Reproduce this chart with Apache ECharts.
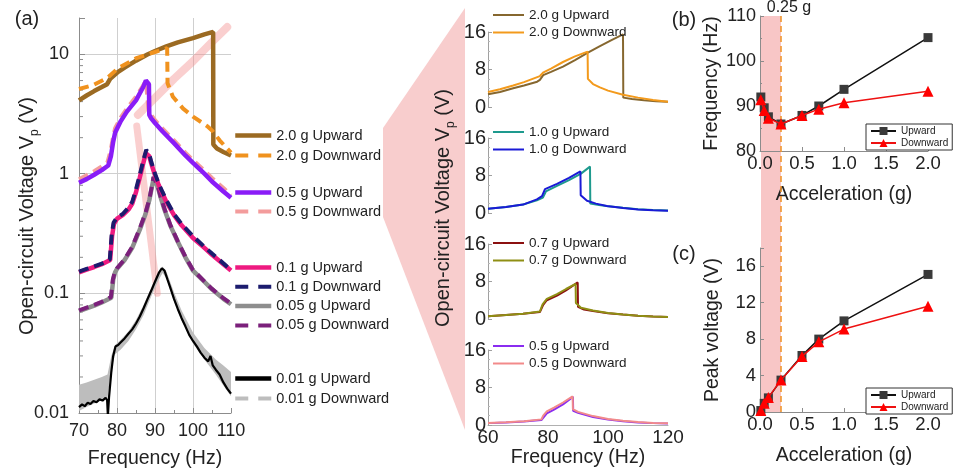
<!DOCTYPE html>
<html>
<head>
<meta charset="utf-8">
<script src="https://cdn.jsdelivr.net/npm/echarts@6/dist/echarts.min.js"></script>
<style>
html,body{margin:0;padding:0;background:#fff}
#c{width:960px;height:475px}
</style>
</head>
<body>
<div id="c"></div>
<script>
// ---------- (a) open-circuit voltage vs frequency, log scale ----------
const up20 = [[70,4.1],[72,4.5],[74,4.9],[76,5.3],[77.4,5.6],[78.2,6.2],[80.3,7.1],[82,7.7],[85,8.8],[88,9.9],[90,10.6],[93,11.6],[96,12.5],[100,13.6],[103,14.6],[105.3,15.3],[105.35,1.75],[106.3,1.62],[108,1.52],[110,1.42]];
const dn20 = [[70,5.1],[73.7,5.5],[77.4,6.3],[80.3,7.6],[85.3,9.3],[90,10.4],[93.2,11.2],[93.3,5.7],[94.7,4.4],[97.4,3.5],[100,3.0],[103.7,2.5],[105,2.3],[107,1.9],[110,1.5]];
const up05 = [[70,0.84],[72,0.9],[74,0.98],[76,1.07],[77.7,1.17],[78.4,1.4],[79,1.85],[79.5,2.2],[81,2.75],[82.6,3.3],[85,4.1],[86.9,5.3],[87.6,6.0],[88,6.2],[88.4,5.6],[88.5,3.1],[89,2.9],[90,2.65],[92,2.25],[95,1.8],[98,1.42],[100,1.23],[103,1.0],[105,0.86],[108,0.71],[110,0.63]];
const dn05 = [[70,0.9],[72,0.97],[74,1.05],[76,1.15],[77.5,1.25],[78.3,1.55],[79,2.05],[79.5,2.4],[81,2.95],[82.6,3.5],[85,4.4],[86.8,5.4],[87.6,5.95],[88,5.9],[88.3,3.4],[89,3.1],[90,2.8],[92,2.38],[95,1.9],[98,1.5],[100,1.3],[103,1.06],[105,0.92],[108,0.76],[110,0.66]];
const up01 = [[70,0.15],[72,0.158],[74,0.166],[76,0.175],[78.2,0.19],[78.7,0.3],[79.2,0.38],[80,0.42],[81.5,0.45],[83,0.5],[84,0.56],[85,0.7],[86,0.93],[87,1.25],[87.6,1.48],[88,1.5],[88.5,1.4],[89,1.22],[90,0.97],[91,0.8],[92,0.68],[93,0.58],[95,0.45],[97,0.37],[100,0.29],[103,0.24],[105,0.21],[108,0.175],[110,0.155]];
const dn01 = [[70,0.152],[72,0.16],[74,0.168],[76,0.177],[78.1,0.192],[78.6,0.31],[79.1,0.39],[80,0.43],[81.5,0.46],[83,0.52],[84,0.58],[85,0.74],[86,0.98],[87,1.32],[87.7,1.58],[88,1.6],[88.5,1.45],[89,1.26],[90,1.0],[91,0.82],[92,0.7],[93,0.6],[95,0.46],[97,0.38],[100,0.3],[103,0.245],[105,0.215],[108,0.178],[110,0.157]];
const up005 = [[70,0.071],[72,0.075],[74,0.079],[76,0.084],[78.5,0.092],[79,0.13],[79.5,0.15],[80,0.16],[82,0.19],[84,0.24],[86,0.34],[87.5,0.46],[88.5,0.6],[89.2,0.78],[89.7,0.93],[90.1,0.9],[90.8,0.76],[91.5,0.63],[92.5,0.5],[94,0.37],[96,0.27],[98,0.2],[100,0.155],[103,0.125],[105,0.108],[108,0.09],[110,0.081]];
const dn005 = [[70,0.072],[72,0.076],[74,0.08],[76,0.085],[78.4,0.093],[78.9,0.13],[79.4,0.15],[80,0.162],[82,0.193],[84,0.245],[86,0.35],[87.5,0.47],[88.5,0.61],[89.2,0.79],[89.6,0.94],[90,0.91],[90.8,0.77],[91.5,0.64],[92.5,0.51],[94,0.375],[96,0.272],[98,0.202],[100,0.157],[103,0.126],[105,0.109],[108,0.091],[110,0.082]];
const up001 = [[70,0.0112],[70.8,0.0118],[71.5,0.0114],[72.3,0.0122],[73,0.0119],[73.8,0.0126],[74.6,0.0123],[75.4,0.013],[76.2,0.0127],[77,0.0134],[77.4,0.0128],[77.6,0.0095],[77.9,0.0135],[78.5,0.022],[79,0.03],[79.6,0.036],[80.3,0.037],[81,0.039],[82,0.042],[83,0.046],[84,0.05],[85,0.056],[86,0.064],[87,0.075],[88,0.089],[89,0.105],[90,0.125],[91,0.148],[91.8,0.162],[92.5,0.155],[93.3,0.13],[94,0.112],[95,0.09],[96,0.074],[97,0.062],[98,0.053],[99,0.045],[100,0.04],[101,0.036],[102,0.032],[103,0.029],[104,0.027],[104.6,0.03],[105.2,0.025],[106,0.023],[107,0.021],[108,0.018],[109,0.016],[110,0.0145]];
// 0.01 g downward sweep: upper and lower edge of the noisy trace
const dn001Hi = [[70,0.0172],[72,0.018],[74,0.019],[76,0.02],[77.5,0.021],[78.5,0.03],[79.5,0.037],[81,0.041],[83,0.048],[85,0.06],[87,0.08],[89,0.112],[91,0.152],[92,0.168],[93,0.152],[95,0.102],[97,0.072],[100,0.047],[103,0.035],[106,0.028],[108,0.025],[110,0.022]];
const dn001Lo = [[70,0.0104],[72,0.0112],[74,0.012],[76,0.0128],[77.5,0.0134],[78.5,0.023],[79.5,0.031],[81,0.034],[83,0.04],[85,0.05],[87,0.066],[89,0.094],[91,0.13],[92,0.148],[93,0.134],[95,0.086],[97,0.059],[100,0.038],[103,0.028],[106,0.021],[108,0.017],[110,0.0138]];
// peak-frequency trends (shaded arrows)
const trendHigh = [[85.5,3.1],[90,4.3],[95,6.2],[100,8.7],[105,12.6],[109,16.8]];
const trendLow = [[85.2,2.5],[90.6,0.1]];
const logMinor = [0.02,0.03,0.04,0.05,0.06,0.07,0.08,0.09,0.2,0.3,0.4,0.5,0.6,0.7,0.8,0.9,2,3,4,5,6,7,8,9];

// ---------- middle: linear sweeps 60-120 Hz ----------
const m20up = [[60,2.7],[64,3.2],[68.4,4.0],[72,4.6],[76.4,5.4],[77.3,5.8],[78.4,6.8],[81,7.5],[85,8.6],[89,10.0],[93,11.5],[97,12.9],[101,14.2],[105,15.5],[105.1,2.0],[108,1.7],[112,1.45],[116,1.25],[120,1.1]];
const m20dn = [[60,3.2],[64,3.8],[68.4,4.6],[72,5.3],[77.3,6.6],[78.5,7.4],[81,8.2],[85,9.6],[89,10.8],[93.2,11.8],[93.3,6.0],[95,4.9],[97.3,4.2],[100,3.5],[105,2.6],[110,2.0],[115,1.5],[120,1.1]];
const m10up = [[60,0.9],[66,1.3],[71.7,1.8],[76.3,2.7],[78.3,3.3],[79.3,4.6],[83,5.8],[87,7.0],[91,8.4],[94,9.9],[94.1,2.0],[97,1.7],[100,1.45],[105,1.1],[110,0.8],[115,0.65],[120,0.55]];
const m10dn = [[60,0.9],[66,1.3],[71.7,1.8],[76.3,2.9],[78,3.6],[79,5.1],[83,6.2],[87,7.5],[90.8,8.9],[90.9,3.8],[93,2.6],[96,2.0],[99.6,1.5],[105,1.05],[110,0.75],[115,0.6],[120,0.5]];
const m07up = [[60,0.6],[66,0.85],[71.7,1.1],[77.3,1.5],[78.4,3.0],[79.6,4.0],[83,5.0],[86,6.1],[89.9,7.8],[90,2.6],[92,2.0],[95,1.7],[100,1.25],[105,0.95],[110,0.7],[115,0.55],[120,0.45]];
const m07dn = [[60,0.6],[66,0.85],[71.7,1.1],[77.3,1.6],[78.2,3.1],[79.6,4.3],[83,5.3],[86,6.4],[89.2,7.5],[89.3,3.4],[91,2.4],[95,1.8],[100,1.3],[105,0.95],[110,0.7],[115,0.55],[120,0.45]];
const m05up = [[60,0.4],[66,0.55],[72,0.75],[77.8,1.05],[78.4,1.5],[79.6,2.5],[82,3.3],[85,4.4],[88.3,6.0],[88.4,3.0],[90,2.6],[95,1.7],[100,1.15],[105,0.8],[110,0.55],[115,0.4],[120,0.3]];
const m05dn = [[60,0.45],[66,0.6],[72,0.8],[77.8,1.2],[78.4,2.0],[79.6,2.9],[82,3.7],[85,4.8],[88.2,6.1],[88.3,3.4],[90,2.8],[95,1.9],[100,1.3],[105,0.9],[110,0.62],[115,0.45],[120,0.35]];

// ---------- (b), (c): resonance summary vs acceleration ----------
const accel = [0.01, 0.05, 0.1, 0.25, 0.5, 0.7, 1.0, 2.0];
const freqUp = [92.0, 89.6, 87.6, 86.0, 87.9, 90.0, 93.7, 105.2];
const freqDown = [91.4, 89.0, 87.3, 86.0, 87.9, 89.3, 90.7, 93.3];
const peakUp = [0.16, 0.95, 1.55, 3.5, 6.2, 8.0, 10.0, 15.1];
const peakDown = [0.16, 0.95, 1.6, 3.5, 6.1, 7.7, 9.1, 11.6];
const softeningLimit = 0.25;

const FONT = "'Liberation Sans', Arial, Helvetica, sans-serif";
const TXT = '#222';
const AX = '#8c8c8c';

const zip = (xs, ys) => xs.map((x, i) => [x, ys[i]]);

function line(name, data, color, width, dash, idx, z) {
  return {
    type: 'line', name, data, xAxisIndex: idx, yAxisIndex: idx,
    symbol: 'none', smooth: false, z: z || 2,
    lineStyle: { color, width, type: dash || 'solid' },
    itemStyle: { color }
  };
}

const grids = [
  { left: 79, top: 18, width: 152, height: 395 },
  { left: 488, top: 32, width: 180, height: 75 },
  { left: 488, top: 138, width: 180, height: 75 },
  { left: 488, top: 244, width: 180, height: 75 },
  { left: 488, top: 350, width: 180, height: 75 },
  { left: 760, top: 16, width: 168, height: 135 },
  { left: 760, top: 248, width: 168, height: 164 }
];

const xAxes = [
  { gridIndex: 0, type: 'value', min: 70, max: 110, interval: 10,
    axisLine: { show: true, lineStyle: { color: AX } },
    axisTick: { show: true, inside: true, length: 5, lineStyle: { color: AX } },
    minorTick: { show: true, splitNumber: 2, length: 3, lineStyle: { color: AX } },
    splitLine: { show: true, showMinLine: false, showMaxLine: false, lineStyle: { color: '#cfcfcf' } },
    axisLabel: { fontSize: 18, color: TXT, margin: 9, fontFamily: FONT },
    name: 'Frequency (Hz)', nameLocation: 'middle', nameGap: 36,
    nameTextStyle: { fontSize: 19.5, color: TXT, fontFamily: FONT } }
];
for (let i = 1; i <= 4; i++) {
  const last = i === 4;
  xAxes.push({
    gridIndex: i, type: 'value', min: 60, max: 120, interval: 20,
    axisLine: { show: last, lineStyle: { color: '#b0b0b0' } },
    axisTick: { show: false },
    splitLine: { show: false },
    axisLabel: { show: last, fontSize: 19, color: TXT, margin: 3, fontFamily: FONT },
    name: last ? 'Frequency (Hz)' : '', nameLocation: 'middle', nameGap: 19,
    nameTextStyle: { fontSize: 19.5, color: TXT, fontFamily: FONT }
  });
}
for (let i = 5; i <= 6; i++) {
  xAxes.push({
    gridIndex: i, type: 'value', min: 0, max: 2, interval: 0.5,
    axisLine: { show: true, lineStyle: { color: AX } },
    axisTick: { show: true, inside: true, length: 4, lineStyle: { color: AX } },
    splitLine: { show: false },
    axisLabel: { fontSize: 18.5, color: TXT, margin: 3, fontFamily: FONT, formatter: v => v.toFixed(1) },
    name: 'Acceleration (g)', nameLocation: 'middle', nameGap: 34,
    nameTextStyle: { fontSize: 19.5, color: TXT, fontFamily: FONT }
  });
}

const decadeText = ['0.01', '0.1', '1', '10'];
const yAxes = [
  { gridIndex: 0, type: 'log', logBase: 10, min: 0.01, max: 20,
    axisLine: { show: true, lineStyle: { color: AX } },
    axisTick: { show: true, inside: true, length: 6, lineStyle: { color: AX } },
    splitLine: { show: true, showMinLine: false, showMaxLine: false, lineStyle: { color: '#cfcfcf' } },
    axisLabel: { fontSize: 18, color: TXT, margin: 10, fontFamily: FONT,
      formatter: v => {
        const l = Math.log10(v), e = Math.round(l);
        if (Math.abs(l - e) > 0.01 || e < -2 || e > 1) return '';
        return decadeText[e + 2];
      } } }
];
for (let i = 1; i <= 4; i++) {
  yAxes.push({
    gridIndex: i, type: 'value', min: 0, max: 16, interval: 8,
    axisLine: { show: true, lineStyle: { color: '#a0a0a0' } },
    axisTick: { show: true, inside: true, length: 4, lineStyle: { color: '#a0a0a0' } },
    minorTick: { show: true, splitNumber: 4, length: 2, lineStyle: { color: '#b8b8b8' } },
    splitLine: { show: false },
    axisLabel: { fontSize: 20, color: TXT, margin: 2, fontFamily: FONT }
  });
}
yAxes.push({
  gridIndex: 5, type: 'value', min: 80, max: 110, interval: 10,
  axisLine: { show: true, lineStyle: { color: AX } },
  axisTick: { show: true, inside: true, length: 4, lineStyle: { color: AX } },
  minorTick: { show: true, splitNumber: 2, length: 2, lineStyle: { color: AX } },
  splitLine: { show: false },
  axisLabel: { fontSize: 18, color: TXT, margin: 4, fontFamily: FONT },
  name: 'Frequency (Hz)', nameLocation: 'middle', nameGap: 37,
  nameTextStyle: { fontSize: 19.5, color: TXT, fontFamily: FONT }
});
yAxes.push({
  gridIndex: 6, type: 'value', min: 0, max: 18, interval: 4,
  axisLine: { show: true, lineStyle: { color: AX } },
  axisTick: { show: true, inside: true, length: 4, lineStyle: { color: AX } },
  splitLine: { show: false },
  axisLabel: { fontSize: 18.5, color: TXT, margin: 4, fontFamily: FONT,
    formatter: v => (v % 4 === 0 ? String(v) : '') },
  name: 'Peak voltage (V)', nameLocation: 'middle', nameGap: 37,
  nameTextStyle: { fontSize: 19.5, color: TXT, fontFamily: FONT }
});

const C = {
  up20: '#9b6a22', dn20: '#f0921e', up05: '#8a1cf7', dn05: '#f39c9c',
  up01: '#ee1a80', dn01: '#1c1c6e', up005: '#8e8e8e', dn005: '#7b207b',
  up001: '#000000', dn001: '#bdbdbd',
  m20up: '#86672f', m20dn: '#f39a1c', m10up: '#1e9a8e', m10dn: '#1a1ad6',
  m07up: '#8b1010', m07dn: '#8f8f14', m05up: '#8a2cf0', m05dn: '#f28a8a'
};
const DASH = [10, 6];
const trendStyle = { color: 'rgba(242,140,140,0.42)', cap: 'round' };

const series = [
  { type: 'line', data: trendLow, xAxisIndex: 0, yAxisIndex: 0, symbol: 'none', silent: true, z: 1,
    lineStyle: Object.assign({ width: 7 }, trendStyle) },
  { type: 'line', data: trendHigh, xAxisIndex: 0, yAxisIndex: 0, symbol: 'none', silent: true, z: 1,
    lineStyle: Object.assign({ width: 8 }, trendStyle) },
  { type: 'custom', xAxisIndex: 0, yAxisIndex: 0, silent: true, data: logMinor.map(v => [70, v]),
    renderItem: (p, api) => {
      const c = api.coord([api.value(0), api.value(1)]);
      return { type: 'line', shape: { x1: c[0], y1: c[1], x2: c[0] + 4, y2: c[1] },
        style: { stroke: AX, lineWidth: 1 } };
    } },
  { type: 'custom', name: '0.01 g Downward', xAxisIndex: 0, yAxisIndex: 0, silent: true,
    itemStyle: { color: C.dn001 }, data: [dn001Hi[0]],
    renderItem: (p, api) => {
      const pts = dn001Hi.map(d => api.coord(d)).concat(dn001Lo.slice().reverse().map(d => api.coord(d)));
      return { type: 'polygon', shape: { points: pts }, style: { fill: C.dn001 } };
    } },
  line('0.01 g Upward', up001, C.up001, 2.2, null, 0),
  line('0.05 g Upward', up005, C.up005, 4.5, null, 0),
  line('0.05 g Downward', dn005, C.dn005, 4, DASH, 0),
  line('0.1 g Upward', up01, C.up01, 4.5, null, 0),
  line('0.1 g Downward', dn01, C.dn01, 4, DASH, 0),
  line('0.5 g Downward', dn05, C.dn05, 4, DASH, 0),
  line('0.5 g Upward', up05, C.up05, 4.5, null, 0),
  line('2.0 g Upward', up20, C.up20, 4.5, null, 0),
  line('2.0 g Downward', dn20, C.dn20, 4, DASH, 0),

  line('mid:2.0 g Upward', m20up, C.m20up, 2, null, 1),
  line('mid:2.0 g Downward', m20dn, C.m20dn, 2, null, 1),
  line('mid:1.0 g Upward', m10up, C.m10up, 2, null, 2),
  line('mid:1.0 g Downward', m10dn, C.m10dn, 2, null, 2),
  line('mid:0.7 g Upward', m07up, C.m07up, 2, null, 3),
  line('mid:0.7 g Downward', m07dn, C.m07dn, 2, null, 3),
  line('mid:0.5 g Upward', m05up, C.m05up, 2, null, 4),
  line('mid:0.5 g Downward', m05dn, C.m05dn, 2, null, 4)
];
[5, 6].forEach(i => {
  const up = i === 5 ? freqUp : peakUp;
  const dn = i === 5 ? freqDown : peakDown;
  series.push({ type: 'line', name: 'Upward', data: zip(accel, up), xAxisIndex: i, yAxisIndex: i,
    symbol: 'rect', symbolSize: 9, lineStyle: { color: '#111', width: 1.5 }, itemStyle: { color: '#3a3a3a' }, z: 3 });
  series.push({ type: 'line', name: 'Downward', data: zip(accel, dn), xAxisIndex: i, yAxisIndex: i,
    symbol: 'triangle', symbolSize: 11, lineStyle: { color: '#ee1111', width: 1.5 }, itemStyle: { color: '#ff0000' }, z: 4 });
});

// legend keys for the sweep curves are plain line samples (no marker)
const noMarker = { opacity: 0 };
const dashedIcon = { type: [13, 10] };
function legendA(top, gap, data) {
  return { orient: 'vertical', left: 233, top, itemGap: gap, itemWidth: 36, itemHeight: 14, padding: 0,
    selectedMode: false, lineStyle: { width: 'inherit' }, itemStyle: noMarker,
    textStyle: { fontSize: 14.5, lineHeight: 14, color: TXT, fontFamily: FONT }, data };
}
function legendM(top, names) {
  return { orient: 'vertical', left: 492, top, itemGap: 3.5, itemWidth: 31, itemHeight: 13, padding: 0,
    selectedMode: false, lineStyle: { width: 'inherit' }, itemStyle: noMarker,
    formatter: n => n.replace(/^mid:/, ''),
    textStyle: { fontSize: 13.5, lineHeight: 13, color: TXT, fontFamily: FONT }, data: names };
}
function legendBC(top) {
  return { orient: 'vertical', left: 866, top, itemGap: 2, itemWidth: 25, itemHeight: 10, padding: [2, 4],
    selectedMode: false, borderColor: '#333', borderWidth: 1, backgroundColor: '#fff',
    textStyle: { fontSize: 10, lineHeight: 9.5, color: TXT, fontFamily: FONT },
    data: ['Upward', 'Downward'] };
}

const legends = [
  legendA(128, 5, ['2.0 g Upward', { name: '2.0 g Downward', lineStyle: dashedIcon }]),
  legendA(185, 4, ['0.5 g Upward', { name: '0.5 g Downward', lineStyle: dashedIcon }]),
  legendA(260, 4.3, ['0.1 g Upward', { name: '0.1 g Downward', lineStyle: dashedIcon },
    '0.05 g Upward', { name: '0.05 g Downward', lineStyle: dashedIcon }]),
  legendA(371, 5, [{ name: '0.01 g Upward', lineStyle: { width: 4.5 } },
    { name: '0.01 g Downward', icon: 'path://M0,0H13V4H0Z M23,0H36V4H23Z', itemStyle: { color: C.dn001, opacity: 1 } }]),
  legendM(8, ['mid:2.0 g Upward', 'mid:2.0 g Downward']),
  legendM(125, ['mid:1.0 g Upward', 'mid:1.0 g Downward']),
  legendM(236, ['mid:0.7 g Upward', 'mid:0.7 g Downward']),
  legendM(339, ['mid:0.5 g Upward', 'mid:0.5 g Downward']),
  legendBC(124),
  legendBC(388)
];

const chart = echarts.init(document.getElementById('c'), null, { renderer: 'canvas' });
chart.setOption({
  animation: false,
  backgroundColor: '#fff',
  textStyle: { fontFamily: FONT },
  grid: grids,
  xAxis: xAxes,
  yAxis: yAxes,
  legend: legends,
  series
});

// shaded softening region and the 0.25 g marker spanning panels (b) and (c)
const bx0 = chart.convertToPixel({ xAxisIndex: 5 }, 0);
const bx1 = chart.convertToPixel({ xAxisIndex: 5 }, softeningLimit);
const by0 = chart.convertToPixel({ yAxisIndex: 5 }, 110);
const by1 = chart.convertToPixel({ yAxisIndex: 6 }, 0);

const voltTitle = 'Open-circuit Voltage V{sub|p} (V)';
const titleRich = { sub: { fontSize: 12, verticalAlign: 'bottom', lineHeight: 28, fontFamily: FONT, fill: TXT } };
const panelText = (id, x, y, t) => ({ type: 'text', id, x, y, z: 5,
  style: { text: t, fontSize: 20, fontFamily: FONT, fill: TXT, align: 'center', verticalAlign: 'middle' } });

chart.setOption({
  graphic: [
    { type: 'polygon', id: 'zoomWedge', z: -1, silent: true,
      shape: { points: [[465, 8], [383, 128], [383, 217], [465, 430]] },
      style: { fill: '#f8cdcd' } },
    { type: 'rect', id: 'softBand', z: -1, silent: true,
      shape: { x: bx0 + 1, y: by0, width: bx1 - bx0 - 1, height: by1 - by0 },
      style: { fill: '#f8c6c6' } },
    { type: 'line', id: 'softLine', z: 1, silent: true,
      shape: { x1: bx1, y1: by0, x2: bx1, y2: by1 },
      style: { stroke: '#f0962e', lineWidth: 1.6, lineDash: [6, 4] } },
    { type: 'text', id: 'softLabel', x: bx1 + 8, y: by0 - 8, z: 5,
      style: { text: softeningLimit + ' g', fontSize: 16, fontFamily: FONT, fill: TXT, align: 'center', verticalAlign: 'middle' } },
    { type: 'text', id: 'voltA', x: 27, y: 216, rotation: Math.PI / 2, z: 5,
      style: { text: voltTitle, rich: titleRich, fontSize: 20, fontFamily: FONT, fill: TXT, align: 'center', verticalAlign: 'middle' } },
    { type: 'text', id: 'voltM', x: 443, y: 208, rotation: Math.PI / 2, z: 5,
      style: { text: voltTitle, rich: titleRich, fontSize: 20, fontFamily: FONT, fill: TXT, align: 'center', verticalAlign: 'middle' } },
    panelText('pa', 27, 19, '(a)'),
    panelText('pb', 684, 20, '(b)'),
    panelText('pc', 684, 254, '(c)')
  ]
});
</script>
</body>
</html>
